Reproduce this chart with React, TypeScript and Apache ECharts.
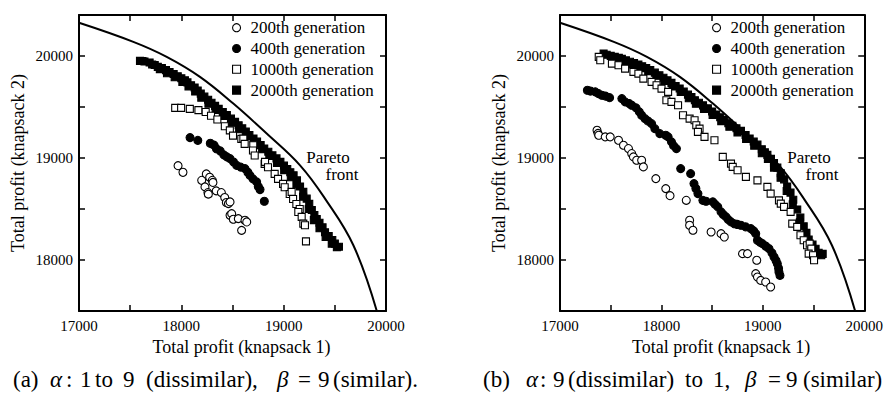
import React, { useEffect, useRef } from "react";
import * as echarts from "echarts";

const FONT = "Liberation Serif";

const seriesNames = ["200th generation", "400th generation", "1000th generation", "2000th generation"];
const xLabelTicks = [17000, 18000, 19000, 20000];
const yLabelTicks = [18000, 19000, 20000];

const paretoFront = [
  [17000, 20324], [17531, 20137], [17857, 19990], [18182, 19794], [18508, 19532],
  [18834, 19238], [19160, 18927], [19404, 18601], [19681, 18144], [19910, 17500],
];

// (a) alpha: 1 to 9, beta = 9
const a200 = [
  [17968, 18924], [18016, 18859], [18199, 18780], [18244, 18843], [18277, 18810], [18303, 18780],
  [18231, 18716], [18309, 18760], [18260, 18660], [18341, 18677], [18391, 18660], [18264, 18645],
  [18424, 18612], [18440, 18563], [18460, 18552], [18476, 18569], [18476, 18438], [18492, 18454],
  [18508, 18399], [18557, 18405], [18622, 18389], [18639, 18373], [18589, 18290],
];
const a400 = [
  [18085, 19199], [18161, 19172], [18283, 19143], [18320, 19125], [18343, 19090], [18380, 19068],
  [18415, 19030], [18445, 19010], [18476, 18993], [18510, 18960], [18541, 18927], [18580, 18910],
  [18622, 18895], [18650, 18860], [18671, 18829], [18700, 18795], [18736, 18765], [18752, 18720],
  [18769, 18690], [18811, 18575],
];
const a1000 = [
  [17940, 19490], [17998, 19490], [18083, 19480], [18167, 19468], [18238, 19449], [18290, 19413],
  [18352, 19376], [18425, 19310], [18474, 19270], [18505, 19218], [18586, 19186], [18606, 19189],
  [18619, 19137], [18703, 19124], [18700, 19072], [18717, 19023], [18814, 18941], [18818, 18961],
  [18847, 18908], [18912, 18843], [18945, 18794], [18994, 18745], [19010, 18712], [19059, 18647],
  [19078, 18667], [19092, 18598], [19124, 18549], [19157, 18500], [19143, 18470], [19176, 18422],
  [19192, 18356], [19208, 18340], [19218, 18182],
];
const a2000 = [
  [17596, 19951], [17620, 19950], [17640, 19945], [17690, 19935], [17715, 19915], [17740, 19910],
  [17770, 19892], [17790, 19870], [17810, 19880], [17850, 19860], [17860, 19830], [17885, 19840],
  [17925, 19822], [17935, 19790], [17965, 19800], [18000, 19780], [18010, 19745], [18035, 19760],
  [18060, 19740], [18070, 19700], [18095, 19712], [18130, 19690], [18135, 19650], [18160, 19660],
  [18190, 19630], [18195, 19590], [18225, 19600], [18262, 19570], [18265, 19530], [18295, 19540],
  [18330, 19510], [18335, 19470], [18365, 19480], [18405, 19450], [18410, 19410], [18445, 19420],
  [18485, 19385], [18490, 19345], [18525, 19353], [18560, 19320], [18565, 19280], [18595, 19290],
  [18630, 19258], [18640, 19215], [18665, 19225], [18705, 19190], [18715, 19150], [18740, 19160],
  [18775, 19125], [18790, 19085], [18810, 19091], [18850, 19060], [18860, 19020], [18890, 19025],
  [18930, 18995], [18935, 18950], [18968, 18961], [19003, 18925], [19005, 18880], [19035, 18890],
  [19065, 18860], [19070, 18810], [19097, 18830], [19130, 18780], [19125, 18740], [19160, 18720],
  [19192, 18667], [19190, 18620], [19225, 18601], [19250, 18550], [19245, 18500], [19275, 18490],
  [19300, 18440], [19295, 18390], [19323, 18402], [19350, 18365], [19350, 18310], [19380, 18320],
  [19404, 18271], [19410, 18225], [19440, 18235], [19475, 18195], [19470, 18160], [19500, 18160],
  [19520, 18124], [19540, 18130],
];

// (b) alpha: 9 to 1, beta = 9
const b200 = [
  [17365, 19271], [17375, 19240], [17382, 19222], [17446, 19206], [17495, 19206], [17577, 19173],
  [17626, 19124], [17675, 19091], [17707, 19042], [17724, 19010], [17756, 18977], [17805, 18977],
  [17822, 18912], [17945, 18797], [18043, 18699], [18085, 18630], [18245, 18584], [18278, 18389],
  [18278, 18340], [18311, 18291], [18490, 18274], [18588, 18258], [18620, 18225], [18800, 18062],
  [18849, 18062], [18940, 17997], [18930, 17866], [18947, 17833], [18979, 17800], [19028, 17784],
  [19077, 17735],
];
const b400 = [
  [17270, 19663], [17300, 19655], [17348, 19647], [17380, 19630], [17414, 19614], [17450, 19605],
  [17489, 19590], [17610, 19581], [17642, 19549], [17684, 19532], [17707, 19516], [17750, 19490],
  [17782, 19451], [17805, 19418], [17838, 19385], [17870, 19360], [17903, 19336], [17935, 19287],
  [17984, 19238], [18043, 19222], [18066, 19206], [18099, 19157], [18120, 19120], [18148, 19091],
  [18190, 18895], [18288, 18846], [18321, 18748], [18340, 18700], [18360, 18650], [18409, 18584],
  [18440, 18575], [18507, 18569], [18530, 18545], [18556, 18520], [18588, 18471], [18610, 18445],
  [18637, 18422], [18660, 18395], [18686, 18373], [18720, 18355], [18750, 18348], [18784, 18340],
  [18830, 18325], [18882, 18307], [18910, 18285], [18930, 18258], [18947, 18193], [18970, 18175],
  [18996, 18160], [19030, 18135], [19061, 18111], [19090, 18070], [19110, 18029], [19130, 17995],
  [19143, 17964], [19155, 17920], [19159, 17882], [19169, 17849],
];
const b1000 = [
  [17382, 19990], [17397, 19957], [17512, 19924], [17577, 19908], [17642, 19875], [17724, 19843],
  [17773, 19826], [17822, 19777], [17903, 19745], [17952, 19712], [18001, 19679], [18066, 19647],
  [18049, 19565], [18099, 19549], [18164, 19516], [18213, 19418], [18278, 19385], [18327, 19369],
  [18344, 19320], [18376, 19287], [18360, 19255], [18425, 19206], [18523, 19173], [18605, 19010],
  [18686, 18944], [18703, 18912], [18751, 18879], [18833, 18814], [18947, 18780], [19045, 18716],
  [19077, 18650], [19159, 18584], [19177, 18552], [19209, 18520], [19274, 18471], [19290, 18356],
  [19339, 18324], [19371, 18242], [19403, 18193], [19436, 18144], [19462, 18160], [19478, 18111],
  [19452, 18062], [19495, 18046], [19505, 17997],
];
const b2000 = [
  [17430, 20022], [17460, 20010], [17500, 20000], [17520, 19975], [17540, 19990], [17580, 19980],
  [17610, 19970], [17630, 19945], [17650, 19955], [17690, 19942], [17710, 19915], [17730, 19930],
  [17773, 19915], [17790, 19885], [17810, 19898], [17850, 19880], [17870, 19850], [17890, 19860],
  [17935, 19835], [17950, 19805], [17980, 19810], [18020, 19785], [18030, 19755], [18060, 19760],
  [18099, 19735], [18110, 19700], [18140, 19705], [18180, 19680], [18190, 19645], [18220, 19650],
  [18262, 19620], [18270, 19585], [18296, 19595], [18330, 19565], [18340, 19530], [18370, 19540],
  [18410, 19515], [18420, 19480], [18458, 19485], [18500, 19455], [18505, 19420], [18540, 19425],
  [18580, 19398], [18590, 19360], [18620, 19370], [18660, 19340], [18670, 19305], [18700, 19315],
  [18740, 19290], [18750, 19250], [18784, 19265], [18830, 19225], [18835, 19185], [18870, 19190],
  [18910, 19160], [18915, 19120], [18947, 19130], [18990, 19085], [18990, 19045], [19020, 19055],
  [19045, 19030], [19050, 18990], [19080, 18990], [19110, 18950], [19110, 18905], [19143, 18905],
  [19177, 18850], [19175, 18805], [19210, 18790], [19240, 18720], [19235, 18675], [19273, 18660],
  [19300, 18590], [19295, 18545], [19339, 18495], [19370, 18415], [19365, 18370], [19403, 18330],
  [19430, 18265], [19425, 18225], [19452, 18200], [19490, 18150], [19520, 18110], [19550, 18070],
  [19576, 18046], [19590, 18060],
];

const squareIcon = "path://M0,0H10V10H0Z";
const legendData = [
  { name: seriesNames[0] },
  { name: seriesNames[1] },
  { name: seriesNames[2], icon: squareIcon },
  { name: seriesNames[3], icon: squareIcon },
];

const markerStyles = [
  { symbol: "circle", symbolSize: 8, color: "#fff" },
  { symbol: "circle", symbolSize: 8, color: "#000" },
  { symbol: "rect", symbolSize: 7, color: "#fff" },
  { symbol: "rect", symbolSize: 7, color: "#000" },
];
const zOrder = [4, 3, 6, 5];

function makeX(gridIndex: number, position: "bottom" | "top", withLabels: boolean) {
  return {
    type: "value",
    gridIndex,
    position,
    min: 17000,
    max: 20000,
    interval: 500,
    splitLine: { show: false },
    axisLine: { show: true, onZero: false, lineStyle: { color: "#000", width: 2 } },
    axisTick: { show: true, inside: true, length: 6, lineStyle: { color: "#000", width: 1.5 } },
    axisLabel: {
      show: withLabels,
      margin: 7,
      color: "#000",
      fontSize: 15,
      fontFamily: FONT,
      formatter: (v: number) => (xLabelTicks.includes(v) ? String(v) : ""),
    },
    name: withLabels ? "Total profit (knapsack 1)" : "",
    nameLocation: "middle",
    nameGap: 26,
    nameTextStyle: { color: "#000", fontSize: 18, fontFamily: FONT, padding: [0, 0, 0, 18] },
  };
}

function makeY(gridIndex: number, position: "left" | "right", withLabels: boolean) {
  return {
    type: "value",
    gridIndex,
    position,
    min: 17500,
    max: 20400,
    interval: 500,
    splitLine: { show: false },
    axisLine: { show: true, onZero: false, lineStyle: { color: "#000", width: 2 } },
    axisTick: { show: true, inside: true, length: 6, lineStyle: { color: "#000", width: 1.5 } },
    axisLabel: {
      show: withLabels,
      margin: 6,
      color: "#000",
      fontSize: 15,
      fontFamily: FONT,
      showMaxLabel: false,
      formatter: (v: number) => (yLabelTicks.includes(v) ? String(v) : ""),
    },
    name: withLabels ? "Total profit (knapsack 2)" : "",
    nameLocation: "middle",
    nameGap: 52,
    nameTextStyle: { color: "#000", fontSize: 18, fontFamily: FONT },
  };
}

function scatterSeries(data: number[][], idx: number, axisIndex: number) {
  const m = markerStyles[idx];
  return {
    type: "scatter",
    name: seriesNames[idx],
    xAxisIndex: axisIndex,
    yAxisIndex: axisIndex,
    data,
    symbol: m.symbol,
    symbolSize: m.symbolSize,
    z: zOrder[idx],
    silent: true,
    itemStyle: { color: m.color, borderColor: "#000", borderWidth: 1.1, opacity: 1 },
  };
}

function paretoSeries(axisIndex: number) {
  return {
    type: "line",
    name: "Pareto front",
    xAxisIndex: axisIndex,
    yAxisIndex: axisIndex,
    data: paretoFront,
    showSymbol: false,
    symbol: "none",
    smooth: 0.4,
    clip: true,
    silent: true,
    z: 7,
    lineStyle: { color: "#000", width: 2 },
  };
}

function legendAt(left: number) {
  return {
    data: legendData,
    orient: "vertical",
    left,
    top: 19.2,
    padding: 0,
    itemWidth: 18,
    itemHeight: 8,
    itemGap: 3.8,
    selectedMode: false,
    itemStyle: { borderWidth: 1.1 },
    textStyle: { color: "#000", fontSize: 17, fontFamily: FONT, lineHeight: 17 },
  };
}

function txt(x: number, y: number, text: string, size: number, align = "left", italic = false) {
  return {
    type: "text",
    x,
    y,
    silent: true,
    style: {
      text,
      fontSize: size,
      fontFamily: FONT,
      fontStyle: italic ? "italic" : "normal",
      fill: "#000",
      align,
      verticalAlign: "middle",
    },
  };
}

export default function App() {
  const ref = useRef<HTMLDivElement>(null);
  useEffect(() => {
    document.body.style.margin = "0";
    const chart = echarts.init(ref.current!, null, { renderer: "svg" });
    const capY = 379;
    const cap = 23;
    const option = {
      animation: false,
      backgroundColor: "#fff",
      textStyle: { fontFamily: FONT },
      grid: [
        { left: 79, top: 15, width: 307, height: 296 },
        { left: 560, top: 15, width: 306, height: 296 },
      ],
      xAxis: [makeX(0, "bottom", true), makeX(1, "bottom", true), makeX(0, "top", false), makeX(1, "top", false)],
      yAxis: [makeY(0, "left", true), makeY(1, "left", true), makeY(0, "right", false), makeY(1, "right", false)],
      legend: [legendAt(232), legendAt(712)],
      series: [
        scatterSeries(a200, 0, 0),
        scatterSeries(a400, 1, 0),
        scatterSeries(a1000, 2, 0),
        scatterSeries(a2000, 3, 0),
        paretoSeries(0),
        scatterSeries(b200, 0, 1),
        scatterSeries(b400, 1, 1),
        scatterSeries(b1000, 2, 1),
        scatterSeries(b2000, 3, 1),
        paretoSeries(1),
      ],
      graphic: [
        txt(328, 157, "Pareto", 17, "center"),
        txt(342, 174, "front", 17, "center"),
        txt(809, 157, "Pareto", 17, "center"),
        txt(822, 174, "front", 17, "center"),
        txt(13, capY, "(a)", cap),
        txt(50, capY, "α", cap, "left", true),
        txt(66, capY, ":", cap),
        txt(80, capY, "1", cap),
        txt(95, capY, "to", cap),
        txt(123, capY, "9", cap),
        txt(146, capY, "(dissimilar),", cap),
        txt(277, capY, "β", cap, "left", true),
        txt(298, capY, "=", cap),
        txt(318, capY, "9", cap),
        txt(333, capY, "(similar).", cap),
        txt(483, capY, "(b)", cap),
        txt(526, capY, "α", cap, "left", true),
        txt(540, capY, ":", cap),
        txt(553, capY, "9", cap),
        txt(568, capY, "(dissimilar)", cap),
        txt(685, capY, "to", cap),
        txt(713, capY, "1,", cap),
        txt(745, capY, "β", cap, "left", true),
        txt(768, capY, "=", cap),
        txt(786, capY, "9", cap),
        txt(803, capY, "(similar)", cap),
      ],
    };
    chart.setOption(option as any);
    return () => chart.dispose();
  }, []);
  return <div ref={ref} style={{ width: 886, height: 399 }} />;
}
